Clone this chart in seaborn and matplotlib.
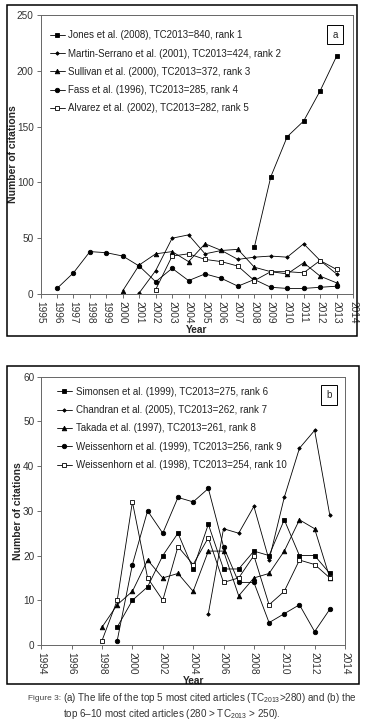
import matplotlib
matplotlib.use("Agg")
import matplotlib.pyplot as plt
import seaborn as sns
import pandas as pd
import numpy as np
from matplotlib.patches import Rectangle

sns.set_theme(style="white")
plt.rcParams['font.family'] = ['Liberation Sans Narrow', 'Liberation Sans', 'DejaVu Sans']
plt.rcParams['mathtext.fontset'] = 'custom'
plt.rcParams['mathtext.rm'] = 'Liberation Sans'

# ---------------- Panel a data ----------------
a_labels = ["Jones et al. (2008), TC2013=840, rank 1",
            "Martin-Serrano et al. (2001), TC2013=424, rank 2",
            "Sullivan et al. (2000), TC2013=372, rank 3",
            "Fass et al. (1996), TC2013=285, rank 4",
            "Alvarez et al. (2002), TC2013=282, rank 5"]
a_start = [2008, 2001, 2000, 1996, 2002]
a_jones = [42, 105, 141, 155, 182, 213]
a_martin = [1, 21, 50, 53, 36, 39, 31, 33, 34, 33, 45, 30, 18]
a_sullivan = [3, 26, 36, 38, 29, 45, 39, 40, 24, 20, 18, 28, 16, 10]
a_fass = [5, 19, 38, 37, 34, 25, 11, 23, 12, 18, 14, 7, 13, 6, 5, 5, 6, 7]
a_alvarez = [4, 34, 36, 31, 29, 25, 12, 20, 20, 19, 30, 22]
a_series = [a_jones, a_martin, a_sullivan, a_fass, a_alvarez]
a_xticks = list(range(1995, 2015))
a_yticks = [0, 50, 100, 150, 200, 250]

# ---------------- Panel b data ----------------
b_labels = ["Simonsen et al. (1999), TC2013=275, rank 6",
            "Chandran et al. (2005), TC2013=262, rank 7",
            "Takada et al. (1997), TC2013=261, rank 8",
            "Weissenhorn et al. (1999), TC2013=256, rank 9",
            "Weissenhorn et al. (1998), TC2013=254, rank 10"]
b_start = [1999, 2005, 1998, 1999, 1998]
b_simonsen = [4, 10, 13, 20, 25, 17, 27, 17, 17, 21, 20, 28, 20, 20, 16]
b_chandran = [7, 26, 25, 31, 19, 33, 44, 48, 29]
b_takada = [4, 9, 12, 19, 15, 16, 12, 21, 21, 11, 15, 16, 21, 28, 26, 15]
b_weiss99 = [1, 18, 30, 25, 33, 32, 35, 22, 14, 14, 5, 7, 9, 3, 8]
b_weiss98 = [1, 10, 32, 15, 10, 22, 18, 24, 14, 15, 20, 9, 12, 19, 18, 15]
b_series = [b_simonsen, b_chandran, b_takada, b_weiss99, b_weiss98]
b_xticks = list(range(1994, 2015, 2))
b_yticks = [0, 10, 20, 30, 40, 50, 60]

markers = ['s', 'D', '^', 'o', 's']
msizes = [3.0, 1.8, 3.3, 3.2, 3.0]
mfaces = ['black', 'black', 'black', 'black', 'white']

FS = 7.0
W, H = 373, 728
fig = plt.figure(figsize=(W / 100, H / 100), dpi=100)

def draw(ax, labels, starts, series, xlim, xticks, ylim, yticks, letter, boxpos, legpos, ylx):
    for lab, st, vals, mk, ms, mf in zip(labels, starts, series, markers, msizes, mfaces):
        df = pd.DataFrame({"Year": np.arange(st, st + len(vals)), "Citations": vals})
        sns.lineplot(data=df, x="Year", y="Citations", ax=ax, color='black',
                     linewidth=0.6, marker=mk, markersize=ms, markerfacecolor=mf,
                     markeredgecolor='black', markeredgewidth=0.6, label=lab)
    ax.set_xlim(*xlim)
    ax.set_ylim(*ylim)
    ax.set_xticks(xticks)
    ax.set_xticklabels([str(t) for t in xticks], rotation=-90, fontsize=FS + 0.3, color='#333333')
    ax.set_yticks(yticks)
    ax.set_yticklabels([str(t) for t in yticks], fontsize=FS + 0.2, color='#333333')
    ax.tick_params(axis='both', direction='out', length=3, width=0.6, color='#555555', pad=2,
                   bottom=True, left=True)
    for s in ax.spines.values():
        s.set_color('#666666')
        s.set_linewidth(0.7)
    ax.set_xlabel("Year", fontsize=FS + 0.3, fontweight='bold', labelpad=1)
    ax.set_ylabel("Number of citations", fontsize=FS + 0.5, fontweight='bold')
    ax.yaxis.set_label_coords(ylx, 0.5)
    leg = ax.legend(loc='upper left', bbox_to_anchor=legpos, frameon=False, fontsize=FS,
                    handlelength=1.5, handletextpad=0.4, labelspacing=0.85,
                    borderpad=0, borderaxespad=0)
    for t in leg.get_texts():
        t.set_color('#222222')
    ax.text(boxpos[0], boxpos[1], letter, transform=ax.transAxes, fontsize=FS,
            ha='center', va='center',
            bbox=dict(boxstyle='square,pad=0.5', facecolor='white', edgecolor='black', linewidth=0.7))
    ax.grid(False)

ax_a = fig.add_axes([40.6 / W, 1 - 294 / H, (353 - 40.6) / W, (294 - 15) / H])
draw(ax_a, a_labels, a_start, a_series, (1995, 2014), a_xticks, (0, 250), a_yticks,
     'a', ((335 - 40.6) / (353 - 40.6), (294 - 34.5) / 279), (0.03, 0.945), -0.072)

ax_b = fig.add_axes([41.3 / W, 1 - 645 / H, (345 - 41.3) / W, (645 - 376.7) / H])
draw(ax_b, b_labels, b_start, b_series, (1994, 2014), b_xticks, (0, 60), b_yticks,
     'b', ((329 - 41.3) / (345 - 41.3), (645 - 395) / 268.3), (0.052, 0.962), -0.060)

# outer frames
fig.add_artist(Rectangle((7 / W, 1 - 336 / H), 350 / W, 331 / H, transform=fig.transFigure,
                         fill=False, edgecolor='black', linewidth=1.1))
fig.add_artist(Rectangle((7 / W, 1 - 684 / H), 352 / W, 318 / H, transform=fig.transFigure,
                         fill=False, edgecolor='black', linewidth=1.1))

# caption
fig.text(28 / W, 1 - 698 / H, "Figure 3:", fontsize=6.0, color='#444444', va='center', ha='left')
fig.text(63 / W, 1 - 698 / H,
         "(a) The life of the top 5 most cited articles (TC$_{2013}$>280) and (b) the",
         fontsize=7.1, color='#333333', va='center', ha='left')
fig.text(63 / W, 1 - 714 / H,
         "top 6\u201310 most cited articles (280 > TC$_{2013}$ > 250).",
         fontsize=7.1, color='#333333', va='center', ha='left')

fig.savefig("out.png", dpi=100)
